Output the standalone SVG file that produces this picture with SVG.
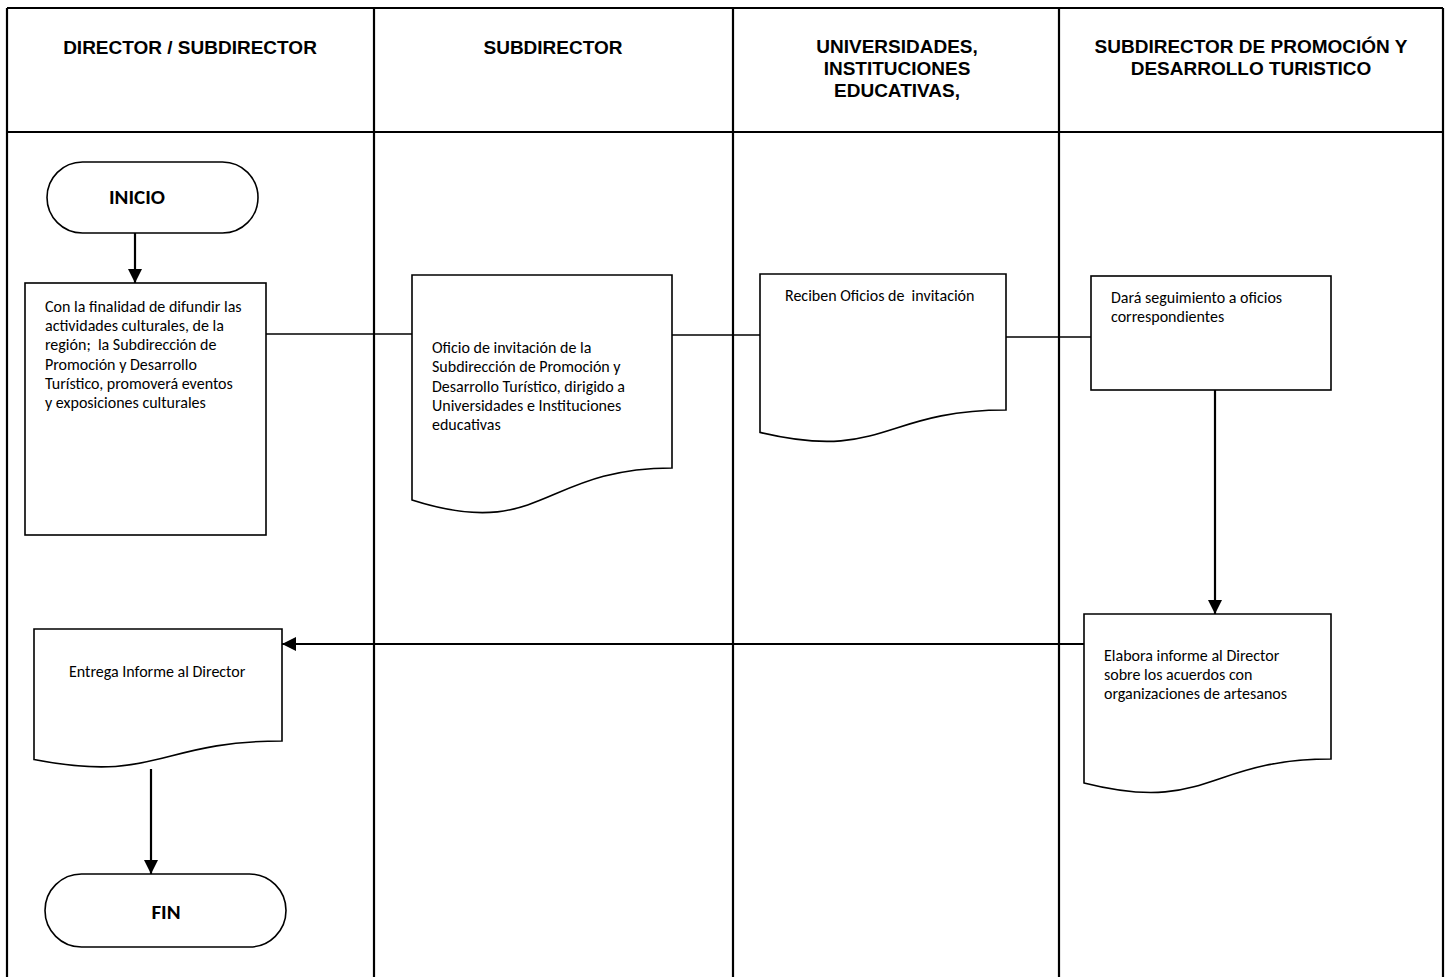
<svg xmlns="http://www.w3.org/2000/svg" width="1446" height="977" viewBox="0 0 1446 977">
<style>
.frame{stroke:#000;stroke-width:2.2;fill:none}
.shape{stroke:#000;stroke-width:1.6;fill:#fff}
.conn{stroke:#000;stroke-width:1.5;fill:none}
.arr{stroke:#000;stroke-width:2.2;fill:none}
.hdr{font-family:"Liberation Sans",Arial,sans-serif;font-weight:bold;font-size:19px;fill:#000;text-anchor:middle}
.txt{font-family:Carlito,Calibri,Lato,"Liberation Sans",sans-serif;font-size:16px;fill:#000}
.term{font-family:Carlito,Calibri,Lato,"Liberation Sans",sans-serif;font-size:21px;font-weight:bold;fill:#000;text-anchor:middle}
</style>
<defs>
<marker id="ah" viewBox="0 0 10 10" refX="10" refY="5" markerWidth="14" markerHeight="14" markerUnits="userSpaceOnUse" orient="auto">
<path d="M0,0 L10,5 L0,10 z" fill="#000"/>
</marker>
</defs>
<rect width="1446" height="977" fill="#fff"/>
<g id="lanes">
<line class="frame" x1="7" y1="8" x2="1443" y2="8"/>
<line class="frame" x1="7" y1="132" x2="1443" y2="132"/>
<line class="frame" x1="7" y1="8" x2="7" y2="977"/>
<line class="frame" x1="374" y1="8" x2="374" y2="977"/>
<line class="frame" x1="733" y1="8" x2="733" y2="977"/>
<line class="frame" x1="1059" y1="8" x2="1059" y2="977"/>
<line class="frame" x1="1443" y1="8" x2="1443" y2="977"/>
<text class="hdr" x="190" y="54">DIRECTOR / SUBDIRECTOR</text>
<text class="hdr" x="553" y="54">SUBDIRECTOR</text>
<text class="hdr" x="897" y="53">UNIVERSIDADES,</text>
<text class="hdr" x="897" y="75">INSTITUCIONES</text>
<text class="hdr" x="897" y="97">EDUCATIVAS,</text>
<text class="hdr" x="1251" y="53">SUBDIRECTOR DE PROMOCIÓN Y</text>
<text class="hdr" x="1251" y="75">DESARROLLO TURISTICO</text>
</g>
<g id="connectors">
<line class="arr" x1="135" y1="233" x2="135" y2="283" marker-end="url(#ah)"/>
<line class="conn" x1="266" y1="334" x2="412" y2="334"/>
<line class="conn" x1="672" y1="335" x2="760" y2="335"/>
<line class="conn" x1="1006" y1="337" x2="1091" y2="337"/>
<line class="arr" x1="1215" y1="390" x2="1215" y2="614" marker-end="url(#ah)"/>
<line class="arr" x1="1084" y1="644" x2="282" y2="644" marker-end="url(#ah)"/>
<line class="arr" x1="151" y1="769" x2="151" y2="874" marker-end="url(#ah)"/>
</g>
<g id="inicio">
<rect class="shape" x="47" y="162" width="211" height="71" rx="35.5" ry="35.5"/>
<text class="term" x="137" y="204">INICIO</text>
</g>
<g id="box1">
<rect class="shape" x="25" y="283" width="241" height="252"/>
<text class="txt" x="45" y="312">Con la finalidad de difundir las</text>
<text class="txt" x="45" y="331">actividades culturales, de la</text>
<text class="txt" x="45" y="350" xml:space="preserve">región;  la Subdirección de</text>
<text class="txt" x="45" y="370">Promoción y Desarrollo</text>
<text class="txt" x="45" y="389">Turístico, promoverá eventos</text>
<text class="txt" x="45" y="408">y exposiciones culturales</text>
</g>
<g id="doc2">
<path class="shape" d="M412,275 H672 V468 C542,468 542,541.5 412,500 Z"/>
<text class="txt" x="432" y="353">Oficio de invitación de la</text>
<text class="txt" x="432" y="372">Subdirección de Promoción y</text>
<text class="txt" x="432" y="392">Desarrollo Turístico, dirigido a</text>
<text class="txt" x="432" y="411">Universidades e Instituciones</text>
<text class="txt" x="432" y="430">educativas</text>
</g>
<g id="doc3">
<path class="shape" d="M760,274 H1006 V410 C883,410 883,461.8 760,432.4 Z"/>
<text class="txt" x="785" y="301" xml:space="preserve">Reciben Oficios de  invitación</text>
</g>
<g id="box4">
<rect class="shape" x="1091" y="276" width="240" height="114"/>
<text class="txt" x="1111" y="303">Dará seguimiento a oficios</text>
<text class="txt" x="1111" y="322">correspondientes</text>
</g>
<g id="doc5">
<path class="shape" d="M1084,614 H1331 V759 C1207.5,759 1207.5,814.2 1084,783 Z"/>
<text class="txt" x="1104" y="661">Elabora informe al Director</text>
<text class="txt" x="1104" y="680">sobre los acuerdos con</text>
<text class="txt" x="1104" y="699">organizaciones de artesanos</text>
</g>
<g id="doc6">
<path class="shape" d="M34,629 H282 V741 C158,741 158,783.7 34,759.5 Z"/>
<text class="txt" x="69" y="677">Entrega Informe al Director</text>
</g>
<g id="fin">
<rect class="shape" x="45" y="874" width="241" height="73" rx="36.5" ry="36.5"/>
<text class="term" x="166" y="919">FIN</text>
</g>
</svg>
